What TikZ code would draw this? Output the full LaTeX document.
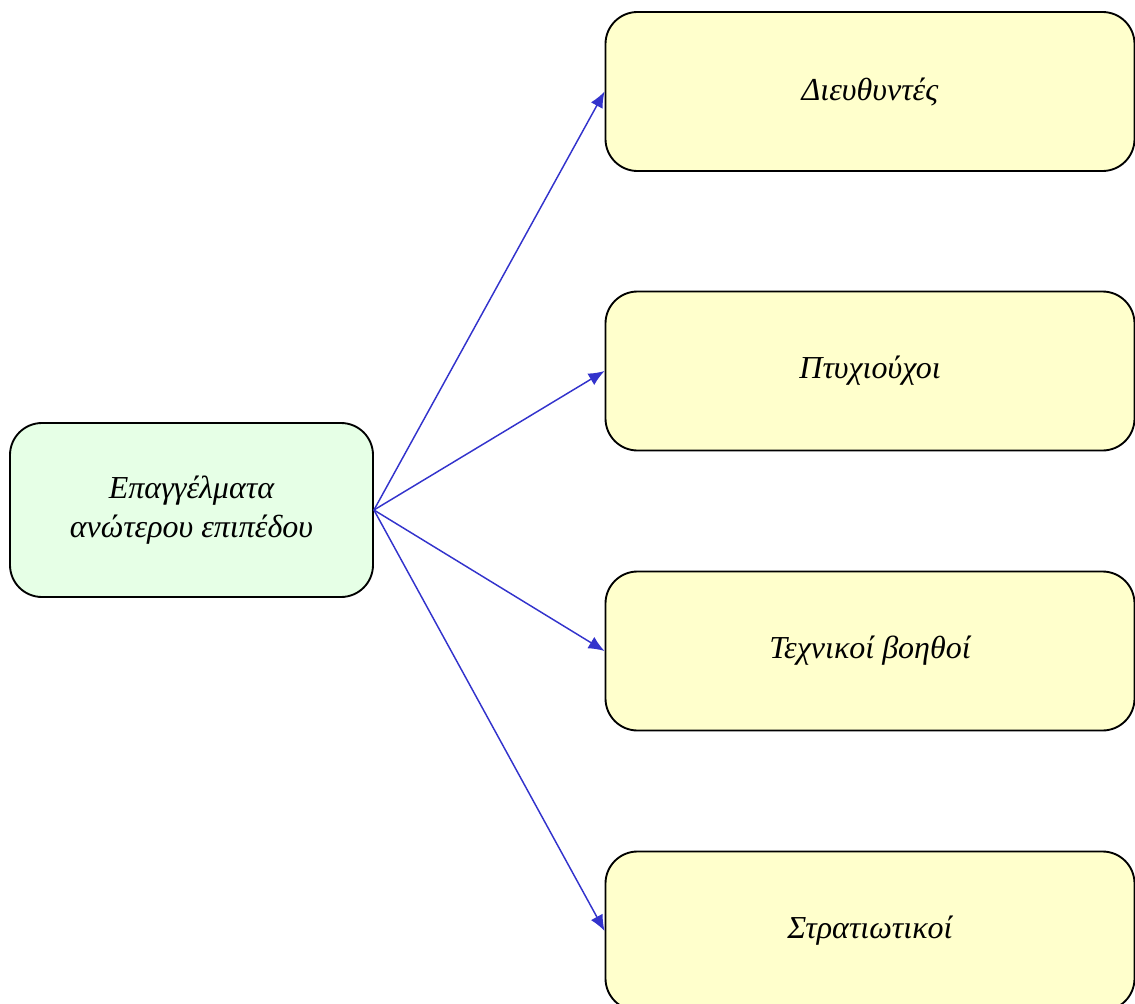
\documentclass[tikz,border=0pt]{standalone}
\usepackage{fontspec}
\setmainfont{Liberation Serif}
\usetikzlibrary{arrows.meta}
\definecolor{boxyellow}{HTML}{FFFFCC}
\definecolor{boxgreen}{HTML}{E6FFE6}
\definecolor{arrowblue}{HTML}{3333CC}
\tikzset{
  basebox/.style={draw=black, line width=1.4pt, rounded corners=24pt, align=center,
    font=\fontsize{24}{29}\selectfont\itshape, inner sep=0pt},
  leafbox/.style={basebox, fill=boxyellow, minimum width=529*0.75pt, minimum height=159*0.75pt},
  rootbox/.style={basebox, fill=boxgreen, minimum width=363*0.75pt, minimum height=174*0.75pt},
  link/.style={draw=arrowblue, line width=1.1pt, -{Latex[length=12pt,width=10pt]}}
}
\begin{document}
\begin{tikzpicture}[x=0.75pt, y=-0.75pt]
\useasboundingbox (0,0) rectangle (1135,1003);
\clip (0,0) rectangle (1135,1003);
\node[rootbox] (root) at (191.5,510) {Επαγγέλματα\\ανώτερου επιπέδου};
\node[leafbox] (b1) at (870,91.5) {Διευθυντές};
\node[leafbox] (b2) at (870,371) {Πτυχιούχοι};
\node[leafbox] (b3) at (870,651) {Τεχνικοί βοηθοί};
\node[leafbox] (b4) at (870,931) {Στρατιωτικοί};
\foreach \b in {b1,b2,b3,b4} \draw[link] (root.east) -- (\b.west);
\end{tikzpicture}
\end{document}
